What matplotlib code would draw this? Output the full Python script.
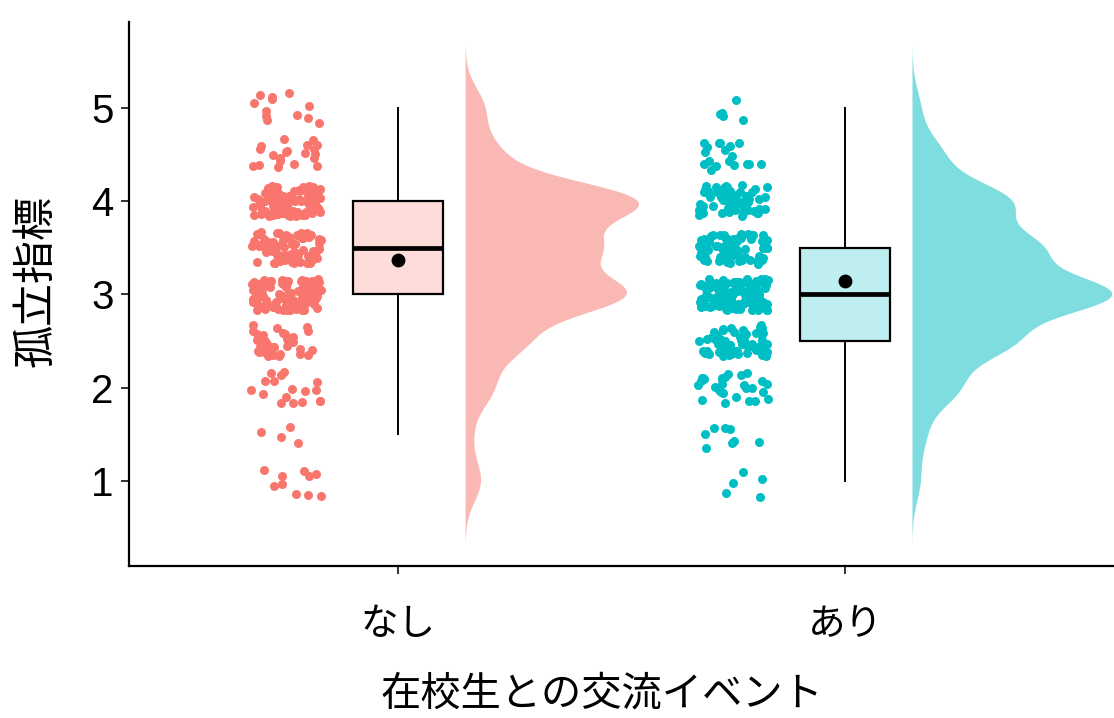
import numpy as np
import matplotlib
matplotlib.use("Agg")
import matplotlib.pyplot as plt

# data: score levels and how many respondents sit at each level
groups = ["なし", "あり"]
levels = [1.0, 1.5, 2.0, 2.5, 3.0, 3.5, 4.0, 4.5, 5.0]
counts_nashi = [10, 4, 17, 36, 99, 77, 108, 20, 12]
counts_ari = [5, 8, 28, 60, 123, 75, 60, 18, 5]

colors = ["#F8766D", "#00BFC4"]
box_fill = ["#FDDCDA", "#BFEEF0"]
violin_fill = ["#F9B8B4", "#7FDDE0"]

cjk = ["Noto Sans CJK JP", "DejaVu Sans"]
bw = 0.22


def kde(vals, grid, h):
    z = (grid[:, None] - vals[None, :]) / h
    return np.exp(-0.5 * z**2).sum(1) / (len(vals) * h * np.sqrt(2 * np.pi))


def jitter(n, w, h, shift):
    # deterministic hash-style jitter offsets
    i = np.arange(n) + shift
    u = (np.sin(i * 12.9898) * 43758.5453) % 1.0
    v = (np.sin(i * 78.233) * 24634.6345) % 1.0
    return (u * 2 - 1) * w, (v * 2 - 1) * h


data = [np.repeat(levels, counts_nashi), np.repeat(levels, counts_ari)]
pos = [1, 2]

fig = plt.figure(figsize=(11.14, 7.18), dpi=100)
ax = fig.add_axes([0.1158, 0.2117, 0.8842, 0.7577])

# half violins
grids, dens = [], []
for d in data:
    g = np.linspace(d.min() - 3 * bw, d.max() + 3 * bw, 400)
    grids.append(g)
    dens.append(kde(d, g, bw))
scale = 0.447 / max(k.max() for k in dens)
for p, g, k, c in zip(pos, grids, dens, violin_fill):
    ax.fill_betweenx(g, p + 0.15, p + 0.15 + k * scale, color=c, lw=0, zorder=1)

# jittered points
for j, (p, d, c) in enumerate(zip(pos, data, colors)):
    dx, dy = jitter(len(d), 0.078, 0.17, 11 + 500 * j)
    ax.scatter(p - 0.25 + dx, d + dy, s=42, color=c, lw=0, zorder=2)

# boxes
bp = ax.boxplot(data, positions=pos, widths=0.2, patch_artist=True,
                showfliers=False, showcaps=False, whis=1.5,
                medianprops=dict(color="black", lw=3.4),
                boxprops=dict(color="black", lw=1.6),
                whiskerprops=dict(color="black", lw=1.4),
                zorder=3)
for patch, fc in zip(bp["boxes"], box_fill):
    patch.set_facecolor(fc)
ax.scatter(pos, [d.mean() for d in data], s=80, color="black", zorder=4)

ax.set_xlim(0.398, 2.602)
ax.set_ylim(0.088, 5.922)
ax.set_yticks([1, 2, 3, 4, 5])
ax.set_xticks(pos)
ax.set_xticklabels(groups, family=cjk, fontsize=27)
for t in ax.get_yticklabels():
    t.set_family("Liberation Sans")
    t.set_fontsize(29)
ax.tick_params(axis="both", length=6, width=1.4, color="#333333")
ax.tick_params(axis="x", pad=22)
ax.tick_params(axis="y", pad=5)
for s in ["top", "right"]:
    ax.spines[s].set_visible(False)
for s in ["left", "bottom"]:
    ax.spines[s].set_linewidth(1.6)

ax.set_xlabel("在校生との交流イベント", family=cjk, fontsize=29)
ax.xaxis.set_label_coords(0.48, -0.197)
ax.set_ylabel("孤立指標", family=cjk, fontsize=31)
ax.yaxis.set_label_coords(-0.072, 0.524)

fig.savefig("out.png", dpi=100)
